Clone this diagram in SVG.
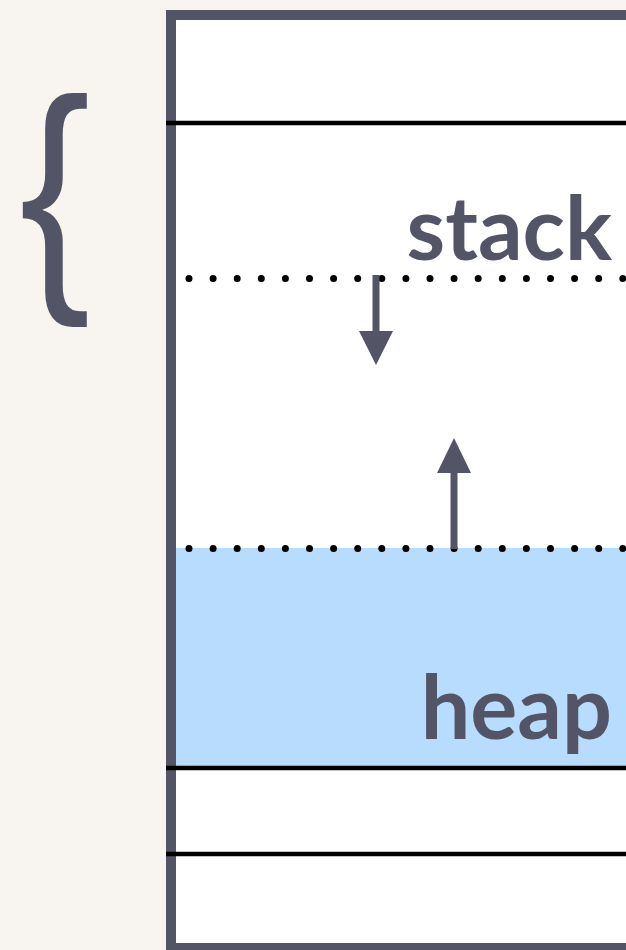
<svg xmlns="http://www.w3.org/2000/svg" width="626" height="950" viewBox="0 0 626 950">
<style>
.frame{fill:#ffffff;stroke:#535466;stroke-width:10}
.sep{stroke:#000000;stroke-width:4.5}
.dots{stroke:#000000;stroke-width:7;stroke-linecap:round;stroke-dasharray:0 24.1;fill:none}
.lbl{font-family:Lato,"Open Sans","Liberation Sans",sans-serif;font-weight:700;font-size:88px;fill:#535466;text-anchor:end}
.shaft{stroke:#535466;stroke-width:7}
.head{fill:#535466}
</style>
<rect x="0" y="0" width="626" height="950" fill="#f8f5f0"/>
<g id="brace">
<text x="0" y="275" transform="translate(19.3,0) scale(0.85,1)" font-family="'Liberation Sans',Arial,sans-serif" font-size="251" fill="#535466">{</text>
</g>
<g id="memory">
<rect class="frame" x="171" y="15" width="460" height="933"/>
<rect x="176" y="548" width="450" height="218" fill="#b8dcfd"/>
<line class="sep" x1="166" y1="123" x2="626" y2="123"/>
<line class="sep" x1="166" y1="768" x2="626" y2="768"/>
<line class="sep" x1="166" y1="854" x2="626" y2="854"/>
</g>
<g id="stack">
<text class="lbl" x="612" y="260">stack</text>
<line class="dots" x1="189" y1="278.5" x2="630" y2="278.5"/>
</g>
<g id="heap">
<line class="dots" x1="189" y1="548.5" x2="630" y2="548.5"/>
<text class="lbl" x="612" y="739">heap</text>
</g>
<g id="connectors">
<line class="shaft" x1="376" y1="275" x2="376" y2="333"/>
<polygon class="head" points="359,331 393,331 376,365"/>
<line class="shaft" x1="454" y1="549" x2="454" y2="471"/>
<polygon class="head" points="437,473 471,473 454,438"/>
</g>
</svg>
